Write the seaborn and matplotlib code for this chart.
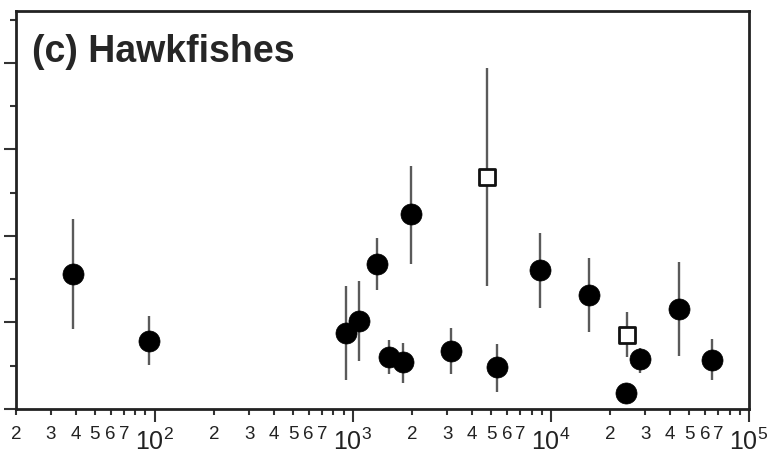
import numpy as np
import pandas as pd
import seaborn as sns
import matplotlib.pyplot as plt
from matplotlib.ticker import FixedLocator, FixedFormatter, NullFormatter

sns.set_style('ticks')
plt.rcParams['font.family'] = ['Liberation Sans', 'DejaVu Sans']

# filled circles
circ_x = [39, 94, 927, 1082, 1334, 1963, 1531, 1791, 3126, 5380,
          8810, 15520, 24040, 28050, 44170, 65000]
circ_y = [1.56, 0.79, 0.88, 1.02, 1.68, 2.25, 0.60, 0.54, 0.67, 0.48,
          1.61, 1.32, 0.18, 0.58, 1.16, 0.57]
circ_lo = [0.92, 0.51, 0.33, 0.55, 1.38, 1.68, 0.40, 0.30, 0.40, 0.20,
           1.17, 0.89, 0.18, 0.42, 0.61, 0.33]
circ_hi = [2.20, 1.07, 1.42, 1.48, 1.98, 2.81, 0.80, 0.76, 0.94, 0.75,
           2.03, 1.74, 0.18, 0.71, 1.70, 0.81]

# open squares
sq_x = [4770, 24330]
sq_y = [2.68, 0.85]
sq_lo = [1.42, 0.60]
sq_hi = [3.94, 1.12]

minor_labels = ['2', '3', '4', '5', '6', '7']
major_labels = [r'$\mathregular{10^2}$', r'$\mathregular{10^3}$',
                r'$\mathregular{10^4}$', r'$\mathregular{10^5}$']

circ = pd.DataFrame({'x': circ_x, 'y': circ_y, 'lo': circ_lo, 'hi': circ_hi})
sq = pd.DataFrame({'x': sq_x, 'y': sq_y, 'lo': sq_lo, 'hi': sq_hi})

fig = plt.figure(figsize=(7.69, 4.59), dpi=100)
ax = fig.add_axes([16/769, 1 - 409/459, 733/769, 398/459])

ax.vlines(circ.x, circ.lo, circ.hi, color='#5a5a5a', lw=1.7, zorder=1)
ax.vlines(sq.x, sq.lo, sq.hi, color='#5a5a5a', lw=1.7, zorder=1)

sns.scatterplot(data=circ, x='x', y='y', ax=ax, color='black', s=230,
                edgecolor='black', linewidth=0.5, zorder=3, legend=False)
sns.scatterplot(data=sq, x='x', y='y', ax=ax, marker='s', color='white', s=140,
                edgecolor='#111111', linewidth=2, zorder=3, legend=False)

ax.set_xscale('log')
ax.set_xlim(20, 1e5)
ax.set_ylim(0, 4.6)

# x ticks
ax.xaxis.set_major_locator(FixedLocator([1e2, 1e3, 1e4, 1e5]))
ax.xaxis.set_major_formatter(FixedFormatter(major_labels))
minor_pos = [m * 10**k for k in range(1, 5) for m in range(2, 10)]
minor_pos = [v for v in minor_pos if v >= 20]
minor_txt = []
for v in minor_pos:
    m = int(round(v / 10**int(np.floor(np.log10(v)))))
    minor_txt.append(str(m) if str(m) in minor_labels else '')
ax.xaxis.set_minor_locator(FixedLocator(minor_pos))
ax.xaxis.set_minor_formatter(FixedFormatter(minor_txt))
ax.tick_params(axis='x', which='major', length=9, width=1.5, labelsize=18,
               pad=5, color='#333333', labelcolor='#222222')
ax.tick_params(axis='x', which='minor', length=4, width=1.5, labelsize=13.5,
               pad=8, color='#333333', labelcolor='#222222')

# y ticks, no labels
ax.yaxis.set_major_locator(FixedLocator([0, 1, 2, 3, 4]))
ax.yaxis.set_minor_locator(FixedLocator([0.5, 1.5, 2.5, 3.5, 4.5]))
ax.yaxis.set_major_formatter(NullFormatter())
ax.tick_params(axis='y', which='major', length=9, width=1.5, color='#333333')
ax.tick_params(axis='y', which='minor', length=4, width=1.5, color='#333333')

for s in ax.spines.values():
    s.set_visible(True)
    s.set_linewidth(2)
    s.set_color('#222222')

ax.set_xlabel('')
ax.set_ylabel('')
ax.text(0.022, 0.872, '(c) Hawkfishes', transform=ax.transAxes,
        fontsize=27, fontweight='bold', va='baseline', ha='left')

fig.savefig('out.png', dpi=100)
